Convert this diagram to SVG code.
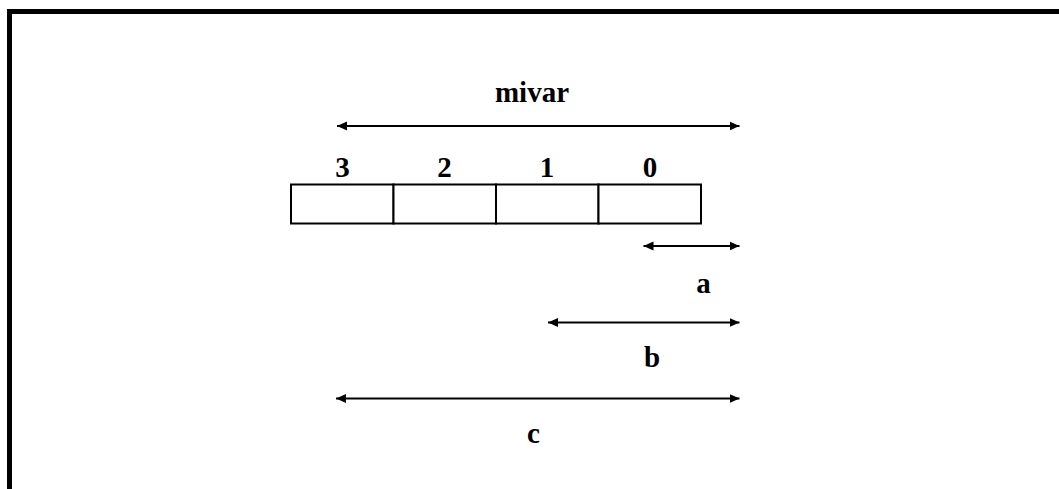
<svg xmlns="http://www.w3.org/2000/svg" width="1059" height="489" viewBox="0 0 1059 489">
<defs>
<marker id="ah" viewBox="0 0 10 10" refX="10" refY="5" markerWidth="10" markerHeight="10" markerUnits="userSpaceOnUse" orient="auto-start-reverse">
<path d="M0,0.5 L10,5 L0,9.5 Z" fill="#000"/>
</marker>
<style>
.lbl{font-family:"Liberation Serif","Times New Roman",serif;font-weight:bold;font-size:29px;fill:#000;text-anchor:middle}
.cell{fill:#fff;stroke:#000;stroke-width:2}
.dim{stroke:#000;stroke-width:2;fill:none;marker-start:url(#ah);marker-end:url(#ah)}
</style>
</defs>
<rect width="1059" height="489" fill="#fff"/>
<path d="M9.5,489 V11.5 H1059" fill="none" stroke="#000" stroke-width="5"/>
<text class="lbl" x="532" y="102">mivar</text>
<g id="cell3"><rect class="cell" x="291" y="184.5" width="102.5" height="39"/><text class="lbl" x="342.5" y="177">3</text></g>
<g id="cell2"><rect class="cell" x="393.5" y="184.5" width="102.5" height="39"/><text class="lbl" x="444.5" y="177">2</text></g>
<g id="cell1"><rect class="cell" x="496" y="184.5" width="102.5" height="39"/><text class="lbl" x="547" y="177">1</text></g>
<g id="cell0"><rect class="cell" x="598.5" y="184.5" width="102.5" height="39"/><text class="lbl" x="650" y="177">0</text></g>
<g id="connectors">
<line class="dim" x1="337" y1="126" x2="739.5" y2="126"/>
<line class="dim" x1="643.5" y1="246" x2="739.5" y2="246"/>
<line class="dim" x1="548" y1="322.5" x2="739.5" y2="322.5"/>
<line class="dim" x1="336" y1="398.5" x2="739.5" y2="398.5"/>
</g>
<text class="lbl" x="703.5" y="293">a</text>
<text class="lbl" x="652" y="367">b</text>
<text class="lbl" x="533.5" y="443">c</text>
</svg>
